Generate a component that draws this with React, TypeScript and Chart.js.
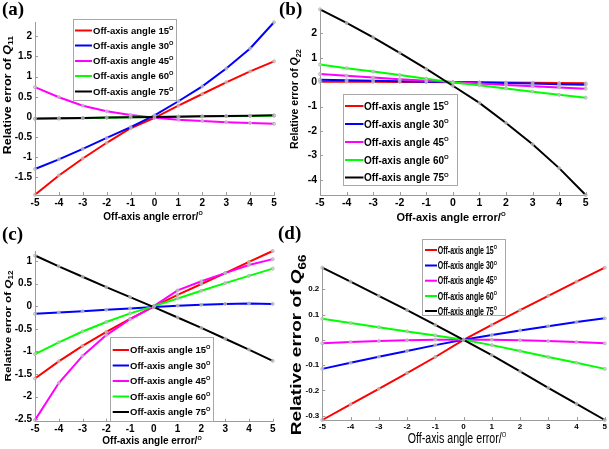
import React, { useEffect, useRef } from "react";
import { Chart, registerables } from "chart.js";

Chart.register(...registerables);

const W = 609;
const H = 449;
const FONT = "'Liberation Sans', Arial, Helvetica, sans-serif";
const SERIF = "'Liberation Serif', 'Times New Roman', serif";

// ---------- data ----------
const xValues = [-5, -4, -3, -2, -1, 0, 1, 2, 3, 4, 5];
const xTicks = [-5, -4, -3, -2, -1, 0, 1, 2, 3, 4, 5];
const angleLabels = ["15", "30", "45", "60", "75"];
const legendPrefix = "Off-axis angle ";
const seriesColors = ["#ff0000", "#0000ff", "#ff00ff", "#00ff00", "#000000"];

// (a) relative error of Q11
const q11_15 = [-1.93, -1.45, -1.03, -0.64, -0.28, -0.02, 0.28, 0.57, 0.86, 1.13, 1.38];
const q11_30 = [-1.29, -1.05, -0.79, -0.52, -0.25, 0.04, 0.39, 0.76, 1.2, 1.7, 2.35];
const q11_45 = [0.74, 0.49, 0.28, 0.14, 0.05, -0.02, -0.07, -0.1, -0.13, -0.15, -0.17];
const q11_60 = [-0.05, -0.04, -0.03, -0.02, -0.01, 0.0, 0.01, 0.015, 0.02, 0.025, 0.03];
const q11_75 = [-0.04, -0.032, -0.024, -0.016, -0.008, 0.0, 0.008, 0.016, 0.024, 0.032, 0.04];
const q11Ticks = [-1.5, -1, -0.5, 0, 0.5, 1, 1.5, 2];
const q11Range = [-1.935, 2.355];

// (b) relative error of Q22
const q22_15 = [0.02, 0.015, 0.01, 0.005, 0.0, -0.005, -0.01, -0.02, -0.03, -0.04, -0.05];
const q22_30 = [0.1, 0.08, 0.06, 0.04, 0.02, 0.0, -0.02, -0.04, -0.06, -0.09, -0.11];
const q22_45 = [0.33, 0.26, 0.19, 0.12, 0.06, 0.0, -0.06, -0.12, -0.17, -0.22, -0.27];
const q22_60 = [0.72, 0.57, 0.43, 0.29, 0.14, -0.02, -0.13, -0.26, -0.39, -0.52, -0.64];
const q22_75 = [2.98, 2.42, 1.83, 1.2, 0.54, -0.15, -0.85, -1.67, -2.54, -3.52, -4.62];
const q22Ticks = [-4, -3, -2, -1, 0, 1, 2];
const q22Range = [-4.62, 2.98];

// (c) relative error of Q12
const q12_15 = [-1.6, -1.22, -0.88, -0.57, -0.28, -0.01, 0.25, 0.49, 0.73, 0.98, 1.22];
const q12_30 = [-0.17, -0.14, -0.11, -0.08, -0.05, -0.02, 0.01, 0.03, 0.05, 0.06, 0.05];
const q12_45 = [-2.52, -1.7, -1.1, -0.64, -0.29, 0.0, 0.35, 0.55, 0.73, 0.91, 1.04];
const q12_60 = [-1.06, -0.8, -0.56, -0.35, -0.16, 0.0, 0.17, 0.34, 0.51, 0.67, 0.83];
const q12_75 = [1.12, 0.88, 0.65, 0.42, 0.2, -0.02, -0.25, -0.48, -0.72, -0.96, -1.21];
const q12Ticks = [-2.5, -2, -1.5, -1, -0.5, 0, 0.5, 1];
const q12Range = [-2.555, 1.22];

// (d) relative error of Q66
const q66_15 = [-0.317, -0.255, -0.194, -0.132, -0.068, 0.0, 0.059, 0.117, 0.174, 0.23, 0.285];
const q66_30 = [-0.115, -0.091, -0.067, -0.044, -0.021, 0.0, 0.019, 0.037, 0.054, 0.07, 0.085];
const q66_45 = [-0.014, -0.009, -0.005, -0.002, 0.0, 0.0, 0.0, -0.002, -0.005, -0.009, -0.014];
const q66_60 = [0.083, 0.066, 0.05, 0.033, 0.017, 0.0, -0.021, -0.044, -0.068, -0.091, -0.115];
const q66_75 = [0.285, 0.23, 0.174, 0.117, 0.059, 0.0, -0.061, -0.125, -0.19, -0.253, -0.317];
const q66Ticks = [-0.3, -0.2, -0.1, 0, 0.1, 0.2];
const q66Range = [-0.317, 0.285];

// ---------- layout ----------
type Seg = { text: string; font: string; dy?: number };
type Panel = {
  tag: string;
  qSub: string;
  series: number[][];
  yTicks: number[];
  yRange: number[];
  area: { L: number; R: number; T: number; B: number };
  tickSize: number;
  label: { x: number; y: number };
  yTitle: { cx: number; cy: number; size: number; sx: number };
  xTitle: { cx: number; by: number; size: number; bold: boolean; sx: number };
  legend: {
    x: number; y: number; w: number; h: number;
    rows: number[]; lx0: number; lx1: number; tx: number; size: number; sx: number;
  };
};

const panels: Panel[] = [
  {
    tag: "(a)", qSub: "11",
    series: [q11_15, q11_30, q11_45, q11_60, q11_75],
    yTicks: q11Ticks, yRange: q11Range,
    area: { L: 35, R: 274, T: 22, B: 195 },
    tickSize: 10,
    label: { x: 2, y: 15 },
    yTitle: { cx: 7, cy: 95, size: 12.5, sx: 0.8 },
    xTitle: { cx: 153, by: 219.5, size: 10, bold: true, sx: 1 },
    legend: { x: 72.5, y: 19, w: 103, h: 81, rows: [30.5, 45.5, 61, 76, 91.5], lx0: 75, lx1: 92, tx: 93, size: 9.5, sx: 1 },
  },
  {
    tag: "(b)", qSub: "22",
    series: [q22_15, q22_30, q22_45, q22_60, q22_75],
    yTicks: q22Ticks, yRange: q22Range,
    area: { L: 320, R: 585.7, T: 3.3, B: 195 },
    tickSize: 10.5,
    label: { x: 279, y: 15 },
    yTitle: { cx: 294, cy: 99, size: 10.5, sx: 1 },
    xTitle: { cx: 451, by: 220.5, size: 11, bold: true, sx: 1 },
    legend: { x: 342.5, y: 94.3, w: 114, h: 90.7, rows: [106, 124, 142, 160, 177.5], lx0: 345, lx1: 363.5, tx: 364, size: 10, sx: 1 },
  },
  {
    tag: "(c)", qSub: "12",
    series: [q12_15, q12_30, q12_45, q12_60, q12_75],
    yTicks: q12Ticks, yRange: q12Range,
    area: { L: 35, R: 272.7, T: 251, B: 421.7 },
    tickSize: 10,
    label: { x: 2, y: 239.5 },
    yTitle: { cx: 7, cy: 326, size: 11.7, sx: 0.85 },
    xTitle: { cx: 152, by: 444, size: 10, bold: true, sx: 1 },
    legend: { x: 110, y: 337.3, w: 103.3, h: 84, rows: [350, 365.5, 381, 396.5, 412], lx0: 112.7, lx1: 129, tx: 130, size: 9.5, sx: 1 },
  },
  {
    tag: "(d)", qSub: "66",
    series: [q66_15, q66_30, q66_45, q66_60, q66_75],
    yTicks: q66Ticks, yRange: q66Range,
    area: { L: 322.3, R: 605, T: 267.7, B: 420 },
    tickSize: 8,
    label: { x: 278, y: 238.5 },
    yTitle: { cx: 296, cy: 345, size: 19, sx: 0.8 },
    xTitle: { cx: 457, by: 443, size: 14, bold: false, sx: 0.76 },
    legend: { x: 422.3, y: 239, w: 83.4, h: 76, rows: [250, 265.5, 280.7, 296, 311], lx0: 425, lx1: 437, tx: 437.7, size: 10, sx: 0.7 },
  },
];

const Y_W = 30;
const X_H = 16;

function drawRich(
  ctx: CanvasRenderingContext2D,
  segs: Seg[],
  x: number,
  y: number,
  sx: number,
  rotate: boolean,
  align: "center" | "left"
) {
  ctx.save();
  ctx.translate(x, y);
  ctx.scale(sx, 1);
  if (rotate) ctx.rotate(-Math.PI / 2);
  ctx.textBaseline = "alphabetic";
  ctx.textAlign = "left";
  ctx.fillStyle = "#000";
  let w = 0;
  for (const s of segs) {
    ctx.font = s.font;
    w += ctx.measureText(s.text).width;
  }
  let cx = align === "center" ? -w / 2 : 0;
  for (const s of segs) {
    ctx.font = s.font;
    ctx.fillText(s.text, cx, s.dy || 0);
    cx += ctx.measureText(s.text).width;
  }
  ctx.restore();
}

function decorPlugin(p: Panel) {
  return {
    id: "decor" + p.qSub,
    afterDraw(chart: any) {
      const ctx: CanvasRenderingContext2D = chart.ctx;
      const xs = chart.scales.x;
      const ys = chart.scales.y;
      const { left, bottom } = chart.chartArea;

      // inward tick marks
      ctx.save();
      ctx.strokeStyle = "#9c9c9c";
      ctx.lineWidth = 1;
      ctx.beginPath();
      for (const v of xTicks) {
        const px = Math.round(xs.getPixelForValue(v)) + 0.5;
        ctx.moveTo(px, bottom);
        ctx.lineTo(px, bottom - 3);
      }
      for (const v of p.yTicks) {
        const py = Math.round(ys.getPixelForValue(v)) + 0.5;
        ctx.moveTo(left, py);
        ctx.lineTo(left + 3, py);
      }
      ctx.stroke();
      ctx.restore();

      // panel tag
      ctx.save();
      ctx.font = `bold 19px ${SERIF}`;
      ctx.fillStyle = "#000";
      ctx.textBaseline = "alphabetic";
      ctx.textAlign = "left";
      ctx.fillText(p.tag, p.label.x, p.label.y);
      ctx.restore();

      // y title
      const ys_ = p.yTitle.size;
      drawRich(
        ctx,
        [
          { text: "Relative error of ", font: `bold ${ys_}px ${FONT}` },
          { text: "Q", font: `italic bold ${ys_}px ${FONT}` },
          { text: p.qSub, font: `bold ${ys_ * 0.7}px ${FONT}`, dy: ys_ * 0.28 },
        ],
        p.yTitle.cx + 0.36 * ys_ * p.yTitle.sx,
        p.yTitle.cy,
        p.yTitle.sx,
        true,
        "center"
      );

      // x title
      const xt = p.xTitle;
      const w8 = xt.bold ? "bold " : "";
      drawRich(
        ctx,
        [
          { text: "Off-axis angle error/", font: `${w8}${xt.size}px ${FONT}` },
          { text: "O", font: `${w8}${xt.size * 0.55}px ${FONT}`, dy: -xt.size * 0.42 },
        ],
        xt.cx,
        xt.by,
        xt.sx,
        false,
        "center"
      );

      // legend
      const lg = p.legend;
      ctx.save();
      ctx.fillStyle = "#ffffff";
      ctx.fillRect(lg.x, lg.y, lg.w, lg.h);
      ctx.strokeStyle = "#a8a8a8";
      ctx.lineWidth = 1;
      ctx.strokeRect(Math.round(lg.x) + 0.5, Math.round(lg.y) + 0.5, Math.round(lg.w), Math.round(lg.h));
      ctx.restore();
      for (let i = 0; i < 5; i++) {
        const ry = lg.rows[i];
        ctx.save();
        ctx.strokeStyle = seriesColors[i];
        ctx.lineWidth = 2;
        ctx.beginPath();
        ctx.moveTo(lg.lx0, ry);
        ctx.lineTo(lg.lx1, ry);
        ctx.stroke();
        ctx.restore();
        drawRich(
          ctx,
          [
            { text: legendPrefix + angleLabels[i], font: `bold ${lg.size}px ${FONT}` },
            { text: "O", font: `bold ${lg.size * 0.6}px ${FONT}`, dy: -lg.size * 0.42 },
          ],
          lg.tx,
          ry + lg.size * 0.36,
          lg.sx,
          false,
          "left"
        );
      }
    },
  };
}

function buildConfig(p: Panel): any {
  const tickFont = { family: FONT, size: p.tickSize, weight: "bold" as const };
  return {
    type: "line",
    data: {
      datasets: p.series.map((vals, i) => ({
        label: legendPrefix + angleLabels[i],
        data: xValues.map((x, j) => ({ x, y: vals[j] })),
        borderColor: seriesColors[i],
        backgroundColor: seriesColors[i],
        borderWidth: 2,
        pointRadius: 1.5,
        pointBorderWidth: 1,
        pointBorderColor: "rgba(175,175,175,0.85)",
        pointBackgroundColor: "rgba(215,215,215,0.7)",
        tension: 0,
        fill: false,
        order: 4 - i,
        clip: 6,
      })),
    },
    options: {
      responsive: false,
      animation: false,
      devicePixelRatio: 1,
      events: [],
      layout: {
        autoPadding: false,
        padding: {
          left: p.area.L - Y_W,
          top: p.area.T,
          right: W - p.area.R,
          bottom: H - p.area.B - X_H,
        },
      },
      plugins: {
        legend: { display: false },
        tooltip: { enabled: false },
        title: { display: false },
      },
      scales: {
        x: {
          type: "linear",
          min: xTicks[0],
          max: xTicks[xTicks.length - 1],
          afterFit: (s: any) => {
            s.height = X_H;
          },
          afterBuildTicks: (s: any) => {
            s.ticks = xTicks.map((v) => ({ value: v }));
          },
          grid: { display: false, drawTicks: false },
          border: { display: true, color: "#9c9c9c", width: 1 },
          ticks: {
            font: tickFont,
            color: "#000",
            padding: 2,
            maxRotation: 0,
            autoSkip: false,
            callback: (v: any) => String(v),
          },
        },
        y: {
          type: "linear",
          min: p.yRange[0],
          max: p.yRange[1],
          afterFit: (s: any) => {
            s.width = Y_W;
          },
          afterBuildTicks: (s: any) => {
            s.ticks = p.yTicks.map((v) => ({ value: v }));
          },
          grid: { display: false, drawTicks: false },
          border: { display: true, color: "#9c9c9c", width: 1 },
          ticks: {
            font: tickFont,
            color: "#000",
            padding: 3,
            autoSkip: false,
            callback: (v: any) => String(v),
          },
        },
      },
    },
    plugins: [decorPlugin(p)],
  };
}

function PanelChart({ panel }: { panel: Panel }) {
  const ref = useRef<HTMLCanvasElement | null>(null);
  useEffect(() => {
    if (!ref.current) return;
    const chart = new Chart(ref.current, buildConfig(panel));
    return () => chart.destroy();
  }, [panel]);
  return (
    <canvas
      ref={ref}
      width={W}
      height={H}
      style={{ position: "absolute", left: 0, top: 0, width: W, height: H }}
    />
  );
}

export default function App() {
  return (
    <div
      style={{
        position: "fixed",
        left: 0,
        top: 0,
        width: W,
        height: H,
        background: "#ffffff",
        overflow: "hidden",
      }}
    >
      {panels.map((p) => (
        <PanelChart key={p.tag} panel={p} />
      ))}
    </div>
  );
}
